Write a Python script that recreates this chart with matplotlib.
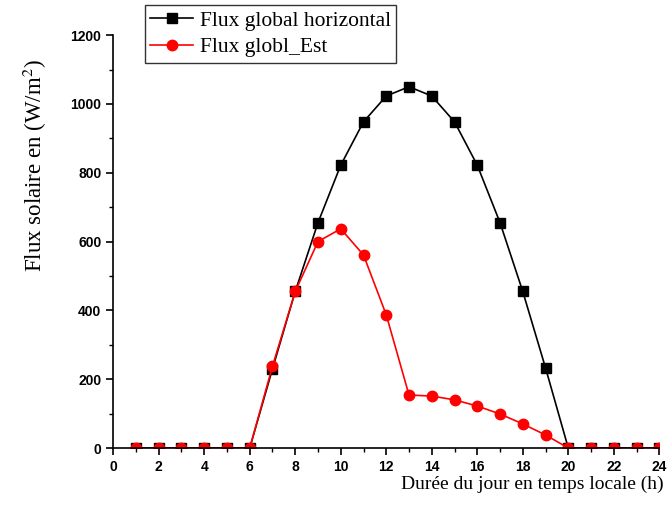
import numpy as np
import matplotlib.pyplot as plt
from matplotlib.ticker import MultipleLocator

plt.rcParams['mathtext.fontset'] = 'stix'

# heures de la journee
heures = list(range(1, 25))
# flux global horizontal (W/m2)
flux_horizontal = [0, 0, 0, 0, 0, 0, 230, 455, 655, 822, 948, 1023, 1050,
                   1023, 948, 822, 655, 455, 233, 0, 0, 0, 0, 0]
# flux global sur la face Est (W/m2)
flux_est = [0, 0, 0, 0, 0, 0, 238, 455, 600, 637, 561, 387, 154,
            151, 140, 122, 99, 70, 38, 0, 0, 0, 0, 0]

fig = plt.figure(figsize=(6.7, 5.24), dpi=100)
ax = fig.add_axes([0.169, 0.145, 0.815, 0.788])

ax.plot(heures, flux_horizontal, color='black', marker='s', markersize=6.5,
        linewidth=1.2, label='Flux global horizontal')
ax.plot(heures, flux_est, color='red', marker='o', markersize=7.5,
        linewidth=1.2, label='Flux globl_Est')

ax.set_xlim(0, 24)
ax.set_ylim(0, 1200)
ax.xaxis.set_major_locator(MultipleLocator(2))
ax.xaxis.set_minor_locator(MultipleLocator(1))
ax.yaxis.set_major_locator(MultipleLocator(200))
ax.yaxis.set_minor_locator(MultipleLocator(100))
ax.spines['top'].set_visible(False)
ax.spines['right'].set_visible(False)
ax.spines['left'].set_linewidth(1.2)
ax.spines['bottom'].set_linewidth(1.2)
ax.tick_params(which='major', length=5, width=1.2, direction='out')
ax.tick_params(which='minor', length=3, width=1.0, direction='out')
for lab in ax.get_xticklabels() + ax.get_yticklabels():
    lab.set_family('Liberation Sans')
    lab.set_fontweight('bold')
    lab.set_fontsize(10)

fig.text(0.99, 0.075, 'Durée du jour en temps locale (h)', ha='right', va='center',
         family='Liberation Serif', fontsize=14)
fig.text(0.052, 0.685, r'Flux solaire en (W/m$^2$)', rotation=90, ha='center',
         va='center', family='Liberation Serif', fontsize=16.5)

leg = fig.legend(loc='upper left', bbox_to_anchor=(0.216, 0.99),
                 prop={'family': 'Liberation Serif', 'size': 15.5},
                 frameon=True, fancybox=False, edgecolor='black',
                 borderpad=0.25, labelspacing=0.3, handlelength=2.0,
                 handletextpad=0.3, borderaxespad=0)
leg.get_frame().set_linewidth(1.0)

fig.savefig('out.png', dpi=100)
